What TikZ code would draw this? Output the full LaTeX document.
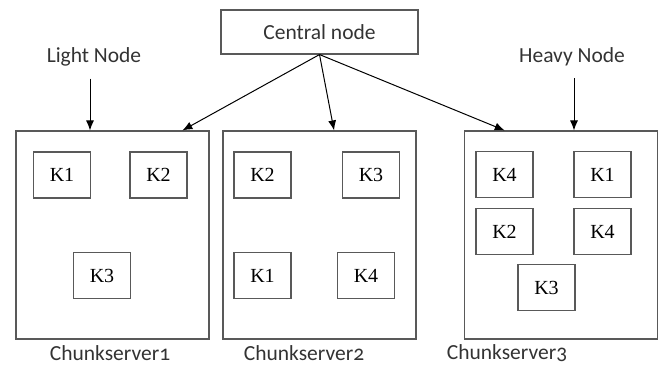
\documentclass[tikz,border=0pt]{standalone}
\usepackage{fontspec}
\setmainfont{Liberation Serif}
\newfontfamily\lblfont[Numbers=OldStyle]{Carlito}
\usetikzlibrary{arrows.meta,calc}

\begin{document}
\begin{tikzpicture}[x=1pt,y=-1pt,
    box/.style={draw=black!65,line width=1.1pt,inner sep=0pt},
    serverbox/.style={box,minimum width=193pt,minimum height=208pt},
    keybox/.style={box,minimum width=57pt,minimum height=46pt,
        font=\fontsize{20}{24}\selectfont},
    lbl/.style={inner sep=2pt,text=black!80,font=\lblfont\fontsize{21.5}{26}\selectfont},
    arr/.style={-{Latex[length=10pt,width=8pt]},line width=1pt,black}]
    \useasboundingbox (0,0) rectangle (664,368);
    \node[box,minimum width=197pt,minimum height=44pt,text=black!80,
        font=\lblfont\fontsize{21.5}{26}\selectfont] (central) at (319.5,32) {Central node};
    \node[serverbox] (cs1) at (112.5,235) {};
    \node[serverbox] (cs2) at (319.5,235) {};
    \node[serverbox] (cs3) at (561,235) {};
    \node[lbl] (cs1lbl) at (110,353) {Chunkserver1};
    \node[lbl] (cs2lbl) at (304,353) {Chunkserver2};
    \node[lbl] (cs3lbl) at (507,353) {Chunkserver3};
    \node[lbl] (light) at (94,57) {Light Node};
    \node[lbl] (heavy) at (572,57) {Heavy Node};
    \foreach \n/\x/\y/\k in {ka/62/175/K1, kb/158.5/175/K2, kc/102/275.5/K3,
        kd/262.5/175/K2, ke/371/175/K3, kf/262.5/275.5/K1, kg/366/275.5/K4,
        kh/504.5/174.5/K4, ki/602.5/174.5/K1, kj/504.5/231.5/K2,
        kk/602.5/231.5/K4, kl/546.5/287.5/K3} {
        \node[keybox] (\n) at (\x,\y) {\k};
    }
    \draw[arr] (central.south) -- ($(cs1.north west)!0.86!(cs1.north east)$);
    \draw[arr] (central.south) -- ($(cs2.north west)!0.575!(cs2.north east)$);
    \draw[arr] (central.south) -- ($(cs3.north west)!0.21!(cs3.north east)$);
    \draw[arr,shorten <=10pt] ([xshift=-4pt]light.south) -- ([xshift=-4pt]light.south |- cs1.north);
    \draw[arr,shorten <=10pt] ([xshift=2pt]heavy.south) -- ([xshift=2pt]heavy.south |- cs3.north);
\end{tikzpicture}
\end{document}
